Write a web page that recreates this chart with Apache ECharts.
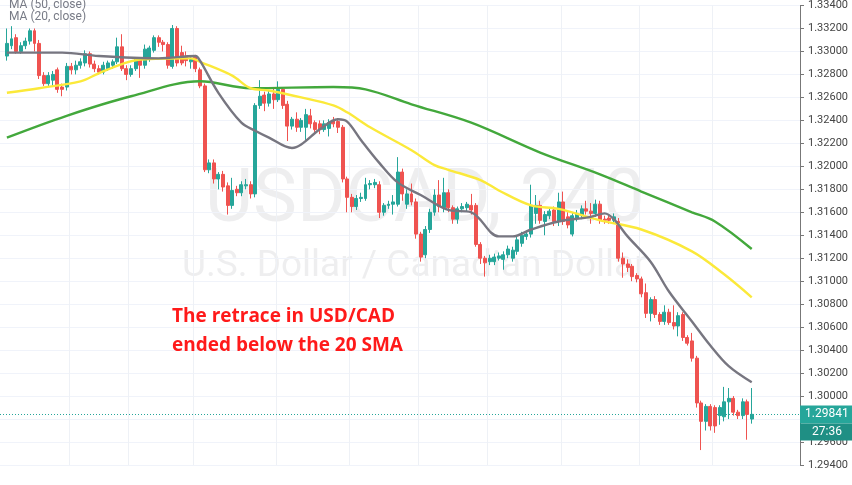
<!DOCTYPE html>
<html>
<head>
<meta charset="utf-8">
<script src="https://cdn.jsdelivr.net/npm/echarts@6/dist/echarts.min.js"></script>
<style>
  html, body { margin: 0; padding: 0; background: #fff; }
  #chart { width: 852px; height: 485px; }
</style>
</head>
<body>
<div id="chart"></div>
<script>
// USDCAD 240 candles: [open, close, low, high]
const candles = [
  [1.3296,1.3307,1.3292,1.3320],[1.3305,1.3311,1.3302,1.3322],[1.3312,1.3300,1.3298,1.3315],[1.3300,1.3305,1.3298,1.3308],
  [1.3305,1.3309,1.3302,1.3312],[1.3309,1.3318,1.3306,1.3320],[1.3318,1.3307,1.3300,1.3320],[1.3307,1.3279,1.3276,1.3310],
  [1.3279,1.3272,1.3270,1.3282],[1.3272,1.3279,1.3270,1.3282],[1.3275,1.3280,1.3270,1.3283],[1.3284,1.3267,1.3264,1.3286],
  [1.3269,1.3267,1.3261,1.3272],[1.3269,1.3287,1.3266,1.3290],[1.3287,1.3284,1.3280,1.3290],[1.3284,1.3288,1.3280,1.3292],
  [1.3288,1.3291,1.3285,1.3294],[1.3290,1.3298,1.3287,1.3301],[1.3298,1.3289,1.3286,1.3300],[1.3289,1.3285,1.3282,1.3292],
  [1.3285,1.3282,1.3280,1.3288],[1.3282,1.3288,1.3280,1.3291],[1.3285,1.3290,1.3283,1.3292],[1.3288,1.3291,1.3285,1.3293],
  [1.3291,1.3304,1.3289,1.3312],[1.3304,1.3285,1.3283,1.3315],[1.3285,1.3280,1.3275,1.3288],[1.3280,1.3285,1.3278,1.3288],
  [1.3285,1.3293,1.3283,1.3295],[1.3293,1.3288,1.3277,1.3295],[1.3288,1.3302,1.3285,1.3306],[1.3293,1.3303,1.3291,1.3305],
  [1.3301,1.3312,1.3299,1.3314],[1.3312,1.3308,1.3304,1.3314],[1.3308,1.3306,1.3300,1.3310],[1.3306,1.3288,1.3285,1.3308],
  [1.3287,1.3320,1.3285,1.3323],[1.3320,1.3290,1.3287,1.3322],[1.3299,1.3290,1.3288,1.3305],[1.3296,1.3292,1.3287,1.3300],
  [1.3291,1.3293,1.3285,1.3295],[1.3295,1.3285,1.3282,1.3297],[1.3284,1.3270,1.3268,1.3286],[1.3270,1.3197,1.3195,1.3272],
  [1.3197,1.3203,1.3194,1.3206],[1.3203,1.3189,1.3185,1.3206],[1.3189,1.3193,1.3180,1.3195],[1.3193,1.3182,1.3178,1.3196],
  [1.3183,1.3166,1.3158,1.3186],[1.3166,1.3179,1.3163,1.3190],[1.3180,1.3177,1.3174,1.3183],[1.3177,1.3184,1.3174,1.3187],
  [1.3183,1.3184,1.3180,1.3189],[1.3184,1.3176,1.3172,1.3187],[1.3176,1.3253,1.3173,1.3255],[1.3253,1.3261,1.3250,1.3275],
  [1.3262,1.3255,1.3248,1.3265],[1.3255,1.3263,1.3252,1.3266],[1.3263,1.3258,1.3250,1.3268],[1.3258,1.3267,1.3256,1.3274],
  [1.3267,1.3253,1.3250,1.3269],[1.3254,1.3235,1.3222,1.3257],[1.3235,1.3241,1.3232,1.3243],[1.3241,1.3234,1.3230,1.3247],
  [1.3234,1.3240,1.3230,1.3242],[1.3234,1.3245,1.3223,1.3250],[1.3244,1.3237,1.3233,1.3250],[1.3238,1.3232,1.3230,1.3240],
  [1.3237,1.3232,1.3228,1.3240],[1.3232,1.3237,1.3230,1.3240],[1.3233,1.3238,1.3226,1.3241],[1.3240,1.3237,1.3234,1.3243],
  [1.3239,1.3234,1.3229,1.3242],[1.3234,1.3189,1.3186,1.3236],[1.3189,1.3173,1.3160,1.3191],[1.3173,1.3165,1.3160,1.3176],
  [1.3165,1.3172,1.3162,1.3175],[1.3172,1.3173,1.3169,1.3177],[1.3172,1.3184,1.3170,1.3190],[1.3184,1.3185,1.3180,1.3188],
  [1.3184,1.3186,1.3181,1.3189],[1.3184,1.3160,1.3155,1.3187],[1.3160,1.3166,1.3157,1.3168],[1.3166,1.3167,1.3163,1.3170],
  [1.3167,1.3169,1.3158,1.3175],[1.3167,1.3195,1.3165,1.3208],[1.3195,1.3176,1.3170,1.3198],[1.3167,1.3176,1.3163,1.3180],
  [1.3176,1.3169,1.3166,1.3185],[1.3169,1.3141,1.3137,1.3172],[1.3141,1.3121,1.3117,1.3143],[1.3123,1.3145,1.3120,1.3148],
  [1.3145,1.3160,1.3142,1.3163],[1.3160,1.3175,1.3157,1.3180],[1.3175,1.3165,1.3160,1.3188],[1.3164,1.3177,1.3160,1.3190],
  [1.3177,1.3164,1.3160,1.3180],[1.3164,1.3154,1.3150,1.3166],[1.3154,1.3163,1.3150,1.3165],[1.3163,1.3165,1.3160,1.3168],
  [1.3164,1.3167,1.3161,1.3169],[1.3166,1.3162,1.3158,1.3176],[1.3166,1.3132,1.3130,1.3168],[1.3132,1.3120,1.3115,1.3134],
  [1.3120,1.3116,1.3104,1.3122],[1.3117,1.3120,1.3114,1.3123],[1.3117,1.3121,1.3114,1.3124],[1.3120,1.3122,1.3118,1.3125],
  [1.3119,1.3123,1.3110,1.3126],[1.3123,1.3128,1.3120,1.3131],[1.3120,1.3127,1.3117,1.3130],[1.3126,1.3136,1.3123,1.3139],
  [1.3133,1.3140,1.3130,1.3143],[1.3139,1.3141,1.3136,1.3144],[1.3141,1.3166,1.3138,1.3184],[1.3159,1.3166,1.3150,1.3175],
  [1.3166,1.3153,1.3150,1.3170],[1.3152,1.3158,1.3140,1.3161],[1.3157,1.3161,1.3154,1.3164],[1.3162,1.3152,1.3148,1.3165],
  [1.3152,1.3169,1.3148,1.3177],[1.3169,1.3152,1.3149,1.3178],[1.3156,1.3149,1.3146,1.3160],[1.3141,1.3157,1.3139,1.3160],
  [1.3155,1.3159,1.3152,1.3162],[1.3157,1.3163,1.3154,1.3166],[1.3163,1.3161,1.3158,1.3170],[1.3161,1.3159,1.3150,1.3168],
  [1.3159,1.3167,1.3156,1.3171],[1.3167,1.3153,1.3150,1.3170],[1.3154,1.3153,1.3150,1.3157],[1.3155,1.3153,1.3150,1.3158],
  [1.3153,1.3156,1.3150,1.3159],[1.3152,1.3120,1.3117,1.3155],[1.3120,1.3115,1.3103,1.3125],[1.3115,1.3112,1.3108,1.3119],
  [1.3113,1.3104,1.3100,1.3115],[1.3105,1.3102,1.3099,1.3107],[1.3102,1.3089,1.3086,1.3104],[1.3090,1.3072,1.3068,1.3098],
  [1.3072,1.3084,1.3065,1.3086],[1.3084,1.3071,1.3068,1.3087],[1.3071,1.3065,1.3062,1.3073],[1.3065,1.3073,1.3062,1.3079],
  [1.3073,1.3064,1.3062,1.3076],[1.3064,1.3061,1.3058,1.3079],[1.3061,1.3070,1.3052,1.3073],[1.3071,1.3051,1.3048,1.3073],
  [1.3051,1.3046,1.3044,1.3053],[1.3048,1.3033,1.3030,1.3055],[1.3033,1.2994,1.2990,1.3035],[1.2994,1.2978,1.2953,1.2996],
  [1.2978,1.2991,1.2970,1.2993],[1.2991,1.2974,1.2970,1.2993],[1.2990,1.2974,1.2968,1.2992],[1.2983,1.2990,1.2975,1.2992],
  [1.2982,1.2995,1.2978,1.3008],[1.2995,1.2998,1.2980,1.3007],[1.2998,1.2986,1.2983,1.3000],[1.2986,1.2983,1.2980,1.2988],
  [1.2983,1.2995,1.2980,1.2998],[1.2995,1.2984,1.2962,1.2997],[1.2980,1.29841,1.2976,1.3007]
];

// moving averages: [candle index, value]
const ma20 = [[1,1.3299],[13,1.3299],[21,1.3296],[34,1.3294],[42,1.3296],[43,1.3292],[47,1.3264],[52,1.3238],[55,1.3231],
  [58,1.3225],[63,1.3216],[65,1.3219],[69,1.3232],[73,1.3241],[75,1.3239],[78,1.3223],[82,1.3203],[86,1.3186],[91,1.3175],
  [97,1.3162],[102,1.3160],[108,1.3139],[111,1.3139],[115,1.3145],[121,1.3152],[128,1.3156],[131,1.3159],[133,1.3154],
  [136,1.3139],[141,1.3117],[145,1.3091],[150,1.3065],[154,1.3044],[158,1.3026],[163,1.3012]];
const ma50 = [[1,1.3264],[8,1.3268],[17,1.3274],[21,1.3281],[26,1.3289],[30,1.3293],[41,1.3294],[43,1.3291],[50,1.3279],
  [54,1.3268],[58,1.3266],[65,1.3260],[72,1.3253],[75,1.3247],[80,1.3234],[89,1.3214],[94,1.3201],[97,1.3197],[104,1.3188],
  [108,1.3179],[115,1.3166],[121,1.3163],[130,1.3153],[139,1.3145],[150,1.3126],[157,1.3106],[163,1.3086]];
const ma100 = [[1,1.3225],[14,1.3244],[28,1.3261],[43,1.3274],[54,1.3268],[72,1.3269],[79,1.3267],[89,1.3254],[102,1.3238],
  [117,1.3212],[130,1.3193],[139,1.3178],[150,1.3160],[155,1.3152],[163,1.3128]];

const gridKs = [15, 28, 42, 60, 76, 91, 106, 122, 139, 155];
const categoryCount = 174;
const lastPrice = 1.29841;
const timer = '27:36';

const categories = [];
for (let i = 0; i < categoryCount; i++) categories.push(String(i));
const candleData = [['-', '-', '-', '-']].concat(candles);

const up = '#26a69a', down = '#ef5350';
const chart = echarts.init(document.getElementById('chart'));

const line = (name, data, color) => ({
  name, type: 'line', data, smooth: 0.35, symbol: 'none', connectNulls: true, z: 3,
  lineStyle: { color, width: 2.4 }, silent: true
});

chart.setOption({
  animation: false,
  backgroundColor: '#fff',
  grid: { left: 0, right: 52, top: 2, bottom: 20 },
  xAxis: {
    type: 'category', data: categories, boundaryGap: true,
    axisLine: { show: false }, axisTick: { show: false }, axisLabel: { show: false },
    splitLine: { show: true, interval: (i) => gridKs.includes(i), lineStyle: { color: '#eef1f6' } }
  },
  yAxis: {
    type: 'value', position: 'right', min: 1.294, max: 1.334, interval: 0.002,
    axisLine: { show: true, lineStyle: { color: '#777' } },
    axisTick: { show: true, length: 4, lineStyle: { color: '#777' } },
    axisLabel: { color: '#444', fontSize: 11, fontFamily: 'Roboto', margin: 8, formatter: v => v.toFixed(5) },
    splitLine: { lineStyle: { color: '#f0f3fa' } }
  },
  graphic: [
    { id: 'wm1', type: 'text', left: 205, top: 165, z: 0, style: { text: 'USDCAD, 240', fontSize: 74, fontFamily: 'Roboto', fill: 'rgba(120,123,134,0.13)' } },
    { id: 'wm2', type: 'text', left: 182, top: 248, z: 0, style: { text: 'U.S. Dollar / Canadian Dollar', fontSize: 37, fontFamily: 'Roboto', fill: 'rgba(120,123,134,0.13)' } },
    { id: 'l1', type: 'text', left: 9, top: -1, z: 10, style: { text: 'MA (50, close)', fontSize: 12, fontFamily: 'Roboto', fill: '#787b86' } },
    { id: 'l2', type: 'text', left: 9, top: 11, z: 10, style: { text: 'MA (20, close)', fontSize: 12, fontFamily: 'Roboto', fill: '#787b86' } },
    { id: 'note', type: 'text', left: 172, top: 302, z: 10, style: { text: 'The retrace in USD/CAD\nended below the 20 SMA', fontSize: 19, lineHeight: 29, fontWeight: 'bold', fontFamily: 'Open Sans', fill: '#ff1a1a' } }
  ],
  series: [
    {
      type: 'candlestick', data: candleData, barWidth: '75%', z: 2,
      itemStyle: { color: up, color0: down, borderColor: up, borderColor0: down, borderWidth: 1 }
    },
    line('MA100', ma100, '#43a83c'),
    line('MA50', ma50, '#fbe93a'),
    line('MA20', ma20, '#777680')
  ]
});

// last price line, price tag and timer on the axis
const py = Math.round(chart.convertToPixel({ yAxisIndex: 0 }, lastPrice)) + 0.5;
chart.setOption({
  graphic: [
    { id: 'pl', type: 'line', z: 1, shape: { x1: 0, y1: py, x2: 800, y2: py }, style: { stroke: up, lineWidth: 1, lineDash: [1, 2] } },
    { id: 'tag1', type: 'rect', left: 800, top: py - 9, z: 20, shape: { width: 52, height: 18 }, style: { fill: up } },
    { id: 'tag1t', type: 'text', left: 805, top: py - 7, z: 21, style: { text: lastPrice.toFixed(5), fontSize: 12, fontFamily: 'Roboto', fill: '#fff' } },
    { id: 'tag2', type: 'rect', left: 800, top: py + 9, z: 20, shape: { width: 52, height: 17 }, style: { fill: '#1f8f84' } },
    { id: 'tag2t', type: 'text', left: 812, top: py + 11, z: 21, style: { text: timer, fontSize: 12, fontFamily: 'Roboto', fill: '#fff' } }
  ]
});
</script>
</body>
</html>
